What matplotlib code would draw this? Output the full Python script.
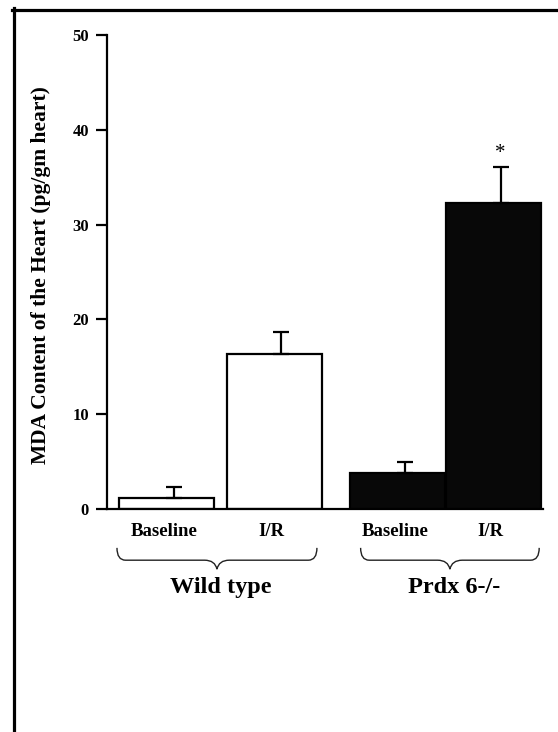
import numpy as np
import matplotlib
matplotlib.use('Agg')
import matplotlib.pyplot as plt
from matplotlib.path import Path
from matplotlib.patches import PathPatch
from matplotlib.lines import Line2D
import matplotlib.transforms as mtransforms

# ── data ─────────────────────────────────────────────
conditions = ['Baseline', 'I/R', 'Baseline', 'I/R']
groups = ['Wild type', 'Prdx 6-/-']
mda_mean = [1.2, 16.3, 3.75, 32.3]
mda_sem = [1.15, 2.35, 1.2, 3.75]
bar_colors = ['white', 'white', '#080808', '#080808']
star_flags = [False, False, False, True]

# ── layout ───────────────────────────────────────────
plt.rcParams['font.family'] = ['Liberation Serif', 'DejaVu Serif']
plt.rcParams['font.weight'] = 'bold'

W, H = 558, 732
fig = plt.figure(figsize=(W / 100, H / 100), dpi=100)
ax = fig.add_axes([107 / W, 1 - 509 / H, 436 / W, 474 / H])

x = np.array([0.63, 1.76, 3.06, 4.07])
err_x = x + 0.075   # error bars sit a little right of bar centre

ax.bar(x, mda_mean, width=1.0, color=bar_colors, edgecolor='black',
       linewidth=1.6, zorder=2)
ax.errorbar(err_x, mda_mean, yerr=[np.zeros(len(mda_sem)), mda_sem],
            fmt='none', ecolor='black', elinewidth=1.6, capsize=5.5,
            capthick=1.6, zorder=3)

for xi, m, s, flag in zip(err_x, mda_mean, mda_sem, star_flags):
    if flag:
        ax.text(xi, m + s + 0.5, '*', ha='center', va='bottom', fontsize=15,
                fontweight='normal')

ax.set_xlim(0, 4.59)
ax.set_ylim(0, 50)
ax.set_yticks(np.arange(0, 51, 10))
ax.set_xticks([])
for side in ('top', 'right'):
    ax.spines[side].set_visible(False)
for side in ('left', 'bottom'):
    ax.spines[side].set_linewidth(1.6)
ax.tick_params(axis='y', direction='out', length=8, width=1.6, pad=5,
               labelsize=12)

ax.set_ylabel('MDA Content of the Heart (pg/gm heart)', fontsize=15.5,
              fontweight='bold')
ax.yaxis.set_label_coords(-0.128, 0.494)

# condition labels under the bars
trans = mtransforms.blended_transform_factory(ax.transData, ax.transAxes)
for xi, lab in zip(x, conditions):
    ax.text(xi - 0.03, -0.0485, lab, transform=trans, ha='center',
            va='center', fontsize=13.5)


# ── curly braces for the two genotypes ───────────────
def draw_brace(x0, x1, y_top=-0.082, y_mid=-0.108, y_tip=-0.127):
    xc = (x0 + x1) / 2
    r = 0.09
    n = 0.13
    verts = [(x0, y_top), (x0, y_mid), (x0 + r, y_mid),
             (xc - n, y_mid),
             (xc - 0.02, y_mid), (xc, y_tip),
             (xc + 0.02, y_mid), (xc + n, y_mid),
             (x1 - r, y_mid),
             (x1, y_mid), (x1, y_top)]
    codes = [Path.MOVETO, Path.CURVE3, Path.CURVE3,
             Path.LINETO,
             Path.CURVE3, Path.CURVE3,
             Path.CURVE3, Path.CURVE3,
             Path.LINETO,
             Path.CURVE3, Path.CURVE3]
    patch = PathPatch(Path(verts, codes), transform=trans, fill=False,
                      edgecolor='#222222', linewidth=1.0, clip_on=False)
    ax.add_patch(patch)
    return xc


brace_spans = [(0.105, 2.21), (2.67, 4.55)]
for (b0, b1), g in zip(brace_spans, groups):
    xc = draw_brace(b0, b1)
    ax.text(xc + 0.04, -0.165, g, transform=trans, ha='center', va='center',
            fontsize=17.5)

# frame lines (left and top only, as cropped in the original)
fig.add_artist(Line2D([13.5 / W, 13.5 / W], [0, 1 - 8 / H],
                      transform=fig.transFigure, color='black', linewidth=2.3))
fig.add_artist(Line2D([12 / W, 1], [1 - 9.5 / H, 1 - 9.5 / H],
                      transform=fig.transFigure, color='black', linewidth=2.3))

fig.savefig('out.png', dpi=100, facecolor='white')
